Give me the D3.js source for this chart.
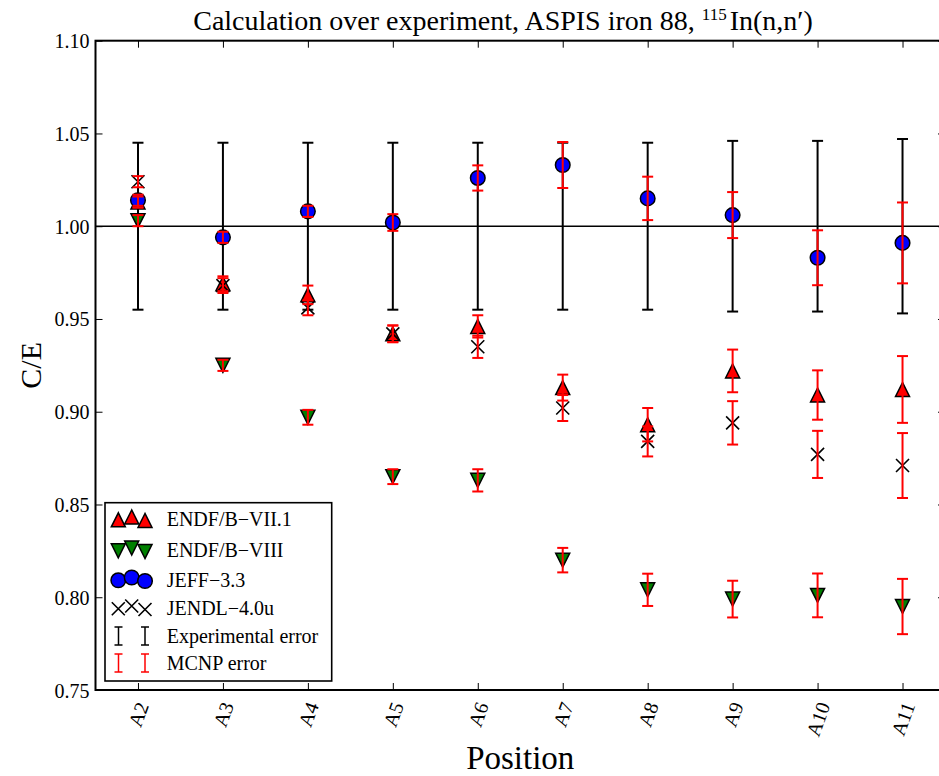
<!DOCTYPE html>
<html>
<head>
<meta charset="utf-8">
<script src="https://cdnjs.cloudflare.com/ajax/libs/d3/7.8.5/d3.min.js"></script>
</head>
<body style="margin:0">
<script>
// Data
var positions = ["A2", "A3", "A4", "A5", "A6", "A7", "A8", "A9", "A10", "A11"];
var posIndex = [2, 3, 4, 5, 6, 7, 8, 9, 10, 11];

var endf71 = [1.013, 0.969, 0.963, 0.942, 0.946, 0.913, 0.893, 0.922, 0.909, 0.912];
var endf71Err = [0.003, 0.004, 0.005, 0.0045, 0.006, 0.007, 0.009, 0.0115, 0.0133, 0.018];
var endf8 = [1.003, 0.925, 0.897, 0.865, 0.863, 0.820, 0.804, 0.799, 0.801, 0.795];
var endf8Err = [0.003, 0.003, 0.004, 0.004, 0.006, 0.0066, 0.0087, 0.0099, 0.0118, 0.0149];
var jeff33 = [1.014, 0.994, 1.008, 1.002, 1.026, 1.033, 1.015, 1.006, 0.983, 0.991];
var jeff33Err = [0.003, 0.003, 0.003, 0.0045, 0.0068, 0.0124, 0.0117, 0.0124, 0.0148, 0.0218];
var jendl40 = [1.024, 0.968, 0.956, 0.942, 0.935, 0.902, 0.884, 0.894, 0.877, 0.871];
var jendl40Err = [0.003, 0.004, 0.004, 0.0045, 0.006, 0.007, 0.0081, 0.0117, 0.0127, 0.0175];
var expErr = [0.045, 0.045, 0.045, 0.045, 0.045, 0.045, 0.045, 0.046, 0.046, 0.047];

var yTicks = [0.75, 0.80, 0.85, 0.90, 0.95, 1.00, 1.05, 1.10];

var FONT = '"Liberation Serif"';

var svgWidth = 939;
var svgHeight = 776;
var margin = {top: 40.7, right: -6, bottom: 86, left: 95.5};
var width = svgWidth - margin.left - margin.right;
var height = svgHeight - margin.top - margin.bottom;

var svg = d3.select("body")
  .append("svg")
  .attr("width", svgWidth)
  .attr("height", svgHeight);

var chartGroup = svg.append("g")
  .attr("transform", `translate(${margin.left}, ${margin.top})`);

var xScale = d3.scaleLinear().domain([1.5, 11.5]).range([0, width]);
var yScale = d3.scaleLinear().domain([0.75, 1.10]).range([height, 0]);

// series description (built from the arrays above)
var series = [
  {name: "ENDF/B\u2212VII.1", vals: endf71, errs: endf71Err, shape: "up", fill: "#ff0000"},
  {name: "ENDF/B\u2212VIII", vals: endf8, errs: endf8Err, shape: "down", fill: "#008000"},
  {name: "JEFF\u22123.3", vals: jeff33, errs: jeff33Err, shape: "circle", fill: "#0000ff"},
  {name: "JENDL\u22124.0u", vals: jendl40, errs: jendl40Err, shape: "x", fill: "none"}
];

function markerPath(shape) {
  var r = 7;
  if (shape === "up") return `M0,${-r}L${-r},${r}L${r},${r}Z`;
  if (shape === "down") return `M0,${r}L${-r},${-r}L${r},${-r}Z`;
  if (shape === "x") return `M${-6.5},${-6.5}L6.5,6.5M6.5,${-6.5}L${-6.5},6.5`;
  return null;
}

function drawMarker(g, shape, fill, cx, cy) {
  if (shape === "circle") {
    g.append("circle")
      .attr("cx", cx).attr("cy", cy).attr("r", 7.3)
      .attr("fill", fill).attr("stroke", "#000").attr("stroke-width", 1.5);
  } else if (shape === "x") {
    g.append("path")
      .attr("d", markerPath(shape))
      .attr("transform", `translate(${cx},${cy})`)
      .attr("fill", "none").attr("stroke", "#000").attr("stroke-width", 1.6);
  } else {
    g.append("path")
      .attr("d", markerPath(shape))
      .attr("transform", `translate(${cx},${cy})`)
      .attr("fill", fill).attr("stroke", "#000").attr("stroke-width", 1.5)
      .attr("stroke-linejoin", "miter");
  }
}

function drawErrorBar(g, cx, yLow, yHigh, color, cap, lw) {
  g.append("line")
    .attr("x1", cx).attr("x2", cx).attr("y1", yLow).attr("y2", yHigh)
    .attr("stroke", color).attr("stroke-width", lw);
  [yLow, yHigh].forEach(function(yy) {
    g.append("line")
      .attr("x1", cx - cap).attr("x2", cx + cap).attr("y1", yy).attr("y2", yy)
      .attr("stroke", color).attr("stroke-width", lw);
  });
}

// reference line at C/E = 1
chartGroup.append("line")
  .attr("x1", 0).attr("x2", width)
  .attr("y1", yScale(1.0)).attr("y2", yScale(1.0))
  .attr("stroke", "#000").attr("stroke-width", 1.6);

// experimental error bars, centred on 1
var expGroup = chartGroup.append("g");
posIndex.forEach(function(p, i) {
  drawErrorBar(expGroup, xScale(p), yScale(1 - expErr[i]), yScale(1 + expErr[i]), "#000", 5.5, 2);
});

// markers
var markerGroup = chartGroup.append("g");
series.forEach(function(s) {
  posIndex.forEach(function(p, i) {
    drawMarker(markerGroup, s.shape, s.fill, xScale(p), yScale(s.vals[i]));
  });
});

// MCNP error bars
var mcnpGroup = chartGroup.append("g");
series.forEach(function(s) {
  posIndex.forEach(function(p, i) {
    drawErrorBar(mcnpGroup, xScale(p), yScale(s.vals[i] - s.errs[i]), yScale(s.vals[i] + s.errs[i]), "#ff0000", 5.5, 2);
  });
});

// Axes with inward ticks
var leftAxis = d3.axisLeft(yScale)
  .tickValues(yTicks)
  .tickFormat(d3.format(".2f"))
  .tickSizeInner(-7)
  .tickSizeOuter(0)
  .tickPadding(6);

var rightAxis = d3.axisRight(yScale)
  .tickValues(yTicks)
  .tickFormat("")
  .tickSizeInner(-7)
  .tickSizeOuter(0);

var bottomAxis = d3.axisBottom(xScale)
  .tickValues(posIndex)
  .tickFormat((d, i) => positions[i])
  .tickSizeInner(-7)
  .tickSizeOuter(0);

var topAxis = d3.axisTop(xScale)
  .tickValues(posIndex)
  .tickFormat("")
  .tickSizeInner(-7)
  .tickSizeOuter(0);

var yAxis = chartGroup.append("g").call(leftAxis);
chartGroup.append("g").attr("transform", `translate(${width},0)`).call(rightAxis);
chartGroup.append("g").call(topAxis);
var xAxis = chartGroup.append("g")
  .attr("transform", `translate(0, ${height})`)
  .call(bottomAxis);

chartGroup.selectAll(".domain").remove();
chartGroup.selectAll(".tick line").attr("stroke", "#000").attr("stroke-width", 1);

yAxis.selectAll("text")
  .style("font-family", FONT)
  .attr("font-size", "20px")
  .attr("dy", "0.35em");

xAxis.selectAll("text")
  .style("font-family", FONT)
  .attr("font-size", "20px")
  .attr("text-anchor", "end")
  .attr("y", 0)
  .attr("dy", "0.35em")
  .attr("transform", function() {
    var w = this.getComputedTextLength();
    return `translate(${0.171 * w}, 13) rotate(-70)`;
  });

// spines
chartGroup.append("rect")
  .attr("x", 0).attr("y", 0)
  .attr("width", width).attr("height", height)
  .attr("fill", "none").attr("stroke", "#000").attr("stroke-width", 2);

// Title
var title = svg.append("text")
  .attr("x", 503)
  .attr("y", 30)
  .attr("text-anchor", "middle")
  .style("font-family", FONT)
  .attr("font-size", "28px");
title.append("tspan").style("font-family", FONT).text("Calculation over experiment, ASPIS iron 88, ");
title.append("tspan").style("font-family", FONT).attr("font-size", "17px").attr("dy", -10).text("115");
title.append("tspan").style("font-family", FONT).attr("dy", 10).attr("dx", 3).text("In(n,n\u2032)");

// Axis labels
svg.append("text")
  .attr("x", margin.left + width / 2)
  .attr("y", 769)
  .attr("text-anchor", "middle")
  .style("font-family", FONT)
  .attr("font-size", "33px")
  .text("Position");

svg.append("text")
  .attr("transform", `translate(41, ${margin.top + height / 2}) rotate(-90)`)
  .attr("text-anchor", "middle")
  .style("font-family", FONT)
  .attr("font-size", "30px")
  .text("C/E");

// Legend
var legend = svg.append("g");
legend.append("rect")
  .attr("x", 105).attr("y", 502.7)
  .attr("width", 226.7).attr("height", 178.3)
  .attr("fill", "#fff").attr("stroke", "#000").attr("stroke-width", 1.6);

var legendRows = [519, 550, 579.5, 608, 636, 663];
var legendMarkX = [118.3, 131.7, 145];
var legendOffsets = [0.8, -2, 1.5];

series.forEach(function(s, k) {
  legendMarkX.forEach(function(mx, j) {
    drawMarker(legend, s.shape, s.fill, mx, legendRows[k] + legendOffsets[j]);
  });
});

drawErrorBar(legend, 118.5, 627, 645, "#000", 4, 1.5);
drawErrorBar(legend, 145, 627, 645, "#000", 4, 1.5);
drawErrorBar(legend, 118.5, 654, 672, "#ff0000", 4, 1.5);
drawErrorBar(legend, 145, 654, 672, "#ff0000", 4, 1.5);

var legendLabels = series.map(s => s.name).concat(["Experimental error", "MCNP error"]);
legend.selectAll("text.leg")
  .data(legendLabels)
  .enter()
  .append("text")
  .attr("class", "leg")
  .attr("x", 166.7)
  .attr("y", (d, i) => legendRows[i])
  .attr("dy", "0.35em")
  .style("font-family", FONT)
  .attr("font-size", "20px")
  .text(d => d);
</script>
</body>
</html>
